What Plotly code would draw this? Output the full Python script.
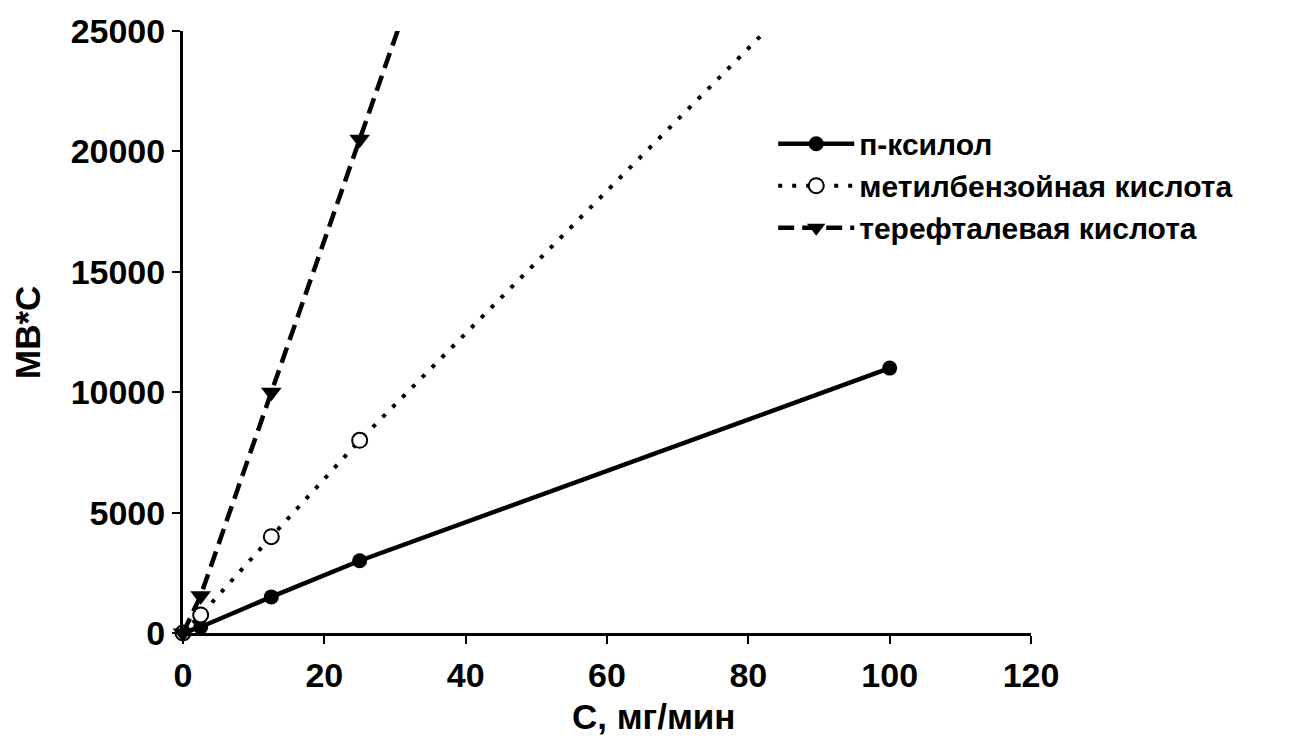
import plotly.graph_objects as go

# Concentration, mg/min
conc = [0, 2.5, 12.5, 25, 100]

# Peak areas, mV*s
p_xylene = [0, 250, 1500, 3000, 11000]
methylbenzoic = [0, 750, 4000, 8000, 30200]
terephthalic = [0, 1550, 10000, 20500, 83500]

names = ["п-ксилол", "метилбензойная кислота", "терефталевая кислота"]

x_ticks = [0, 20, 40, 60, 80, 100, 120]
y_ticks = [0, 5000, 10000, 15000, 20000, 25000]

FONT = "Liberation Sans, Arial, sans-serif"

fig = go.Figure()

fig.add_trace(go.Scatter(
    x=conc, y=p_xylene, name=names[0], mode="lines+markers",
    line=dict(color="black", width=4.5),
    marker=dict(symbol="circle", size=15, color="black"),
    cliponaxis=False,
))
fig.add_trace(go.Scatter(
    x=conc, y=methylbenzoic, name=names[1], mode="lines+markers",
    line=dict(color="black", width=4, dash="4px,10px"),
    marker=dict(symbol="circle", size=15, color="white",
                line=dict(color="black", width=2)),
    cliponaxis=False,
))
fig.add_trace(go.Scatter(
    x=conc, y=terephthalic, name=names[2], mode="lines+markers",
    line=dict(color="black", width=4.5, dash="16px,8px"),
    marker=dict(symbol="triangle-down", size=18, color="black"),
    cliponaxis=False,
))

axis_common = dict(
    showgrid=False, zeroline=False,
    showline=True, linecolor="black", linewidth=3,
    ticks="outside", ticklen=8, tickwidth=2, tickcolor="black",
    tickfont=dict(family=FONT, size=34, color="black", weight="bold"),
)

fig.update_layout(
    width=1293, height=756,
    margin=dict(l=183, r=262, t=28, b=123),
    paper_bgcolor="white", plot_bgcolor="white",
    font=dict(family=FONT, color="black"),
    xaxis=dict(range=[0, 120], tickvals=x_ticks, ticktext=[str(v) for v in x_ticks],
               ticklabelstandoff=2, **axis_common),
    yaxis=dict(range=[0, 25000], tickvals=y_ticks, ticktext=[str(v) for v in y_ticks],
               ticklabelstandoff=0, **axis_common),
    showlegend=True,
    legend=dict(
        x=0.696, y=0.856, xanchor="left", yanchor="top",
        bgcolor="rgba(0,0,0,0)", borderwidth=0,
        font=dict(family=FONT, size=30, color="black", weight="bold"),
        itemwidth=76, tracegroupgap=0,
    ),
    annotations=[
        dict(text="С, мг/мин", xref="paper", yref="paper", x=0.555, y=-0.139,
             xanchor="center", yanchor="middle", showarrow=False,
             font=dict(family=FONT, size=35, color="black", weight="bold")),
        dict(text="МВ*С", xref="paper", yref="paper", x=-0.184, y=0.5,
             xanchor="center", yanchor="middle", showarrow=False, textangle=-90,
             font=dict(family=FONT, size=35, color="black", weight="bold")),
    ],
)

fig.write_html("out.html")
